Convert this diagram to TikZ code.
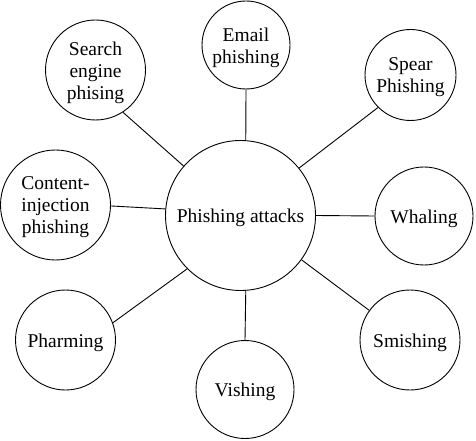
\documentclass[tikz,border=0pt]{standalone}
\usepackage{fontspec}
\setmainfont{Liberation Serif}
\begin{document}
\begin{tikzpicture}[x=1bp,y=-1bp,
  bub/.style={circle,draw,line width=0.9bp,inner sep=0pt},
  txt/.style={align=center,inner sep=0pt,yshift=-2.5bp,
    font=\fontsize{19.5bp}{22bp}\selectfont},
  conn/.style={line width=0.9bp}]
\useasboundingbox (0,0) rectangle (476,441);
\node[bub,minimum size=150bp,label={[txt]center:{Phishing attacks}}] (central) at (240.5,215.5) {};
\node[bub,minimum size=88bp,label={[txt]center:{Email\\phishing}}] (email) at (246,45) {};
\node[bub,minimum size=100bp,label={[txt]center:{Search\\engine\\phising}}] (search) at (95.5,70) {};
\node[bub,minimum size=91bp,label={[txt]center:{Spear\\Phishing}}] (spear) at (410.5,75) {};
\node[bub,minimum size=110bp,label={[txt]center:{Content-\\injection\\phishing}}] (content) at (55.5,205) {};
\node[bub,minimum size=98bp,label={[txt]center:{Whaling}}] (whaling) at (424,216) {};
\node[bub,minimum size=100bp,label={[txt]center:{Pharming}}] (pharming) at (65.5,340) {};
\node[bub,minimum size=98bp,label={[txt]center:{Vishing}}] (vishing) at (245,389.5) {};
\node[bub,minimum size=100bp,label={[txt]center:{Smishing}}] (smishing) at (410,340) {};
\draw[conn] (search.-57) -- (central.139);
\draw[conn] (content.-1) -- (central.175);
\draw[conn] (email.-90) -- (central.86);
\draw[conn] (spear.225) -- (central.39);
\draw[conn] (whaling.180) -- (central.0);
\draw[conn] (pharming.20) -- (central.225);
\draw[conn] (vishing.90) -- (central.-86);
\draw[conn] (smishing.144) -- (central.-36);
\end{tikzpicture}
\end{document}
